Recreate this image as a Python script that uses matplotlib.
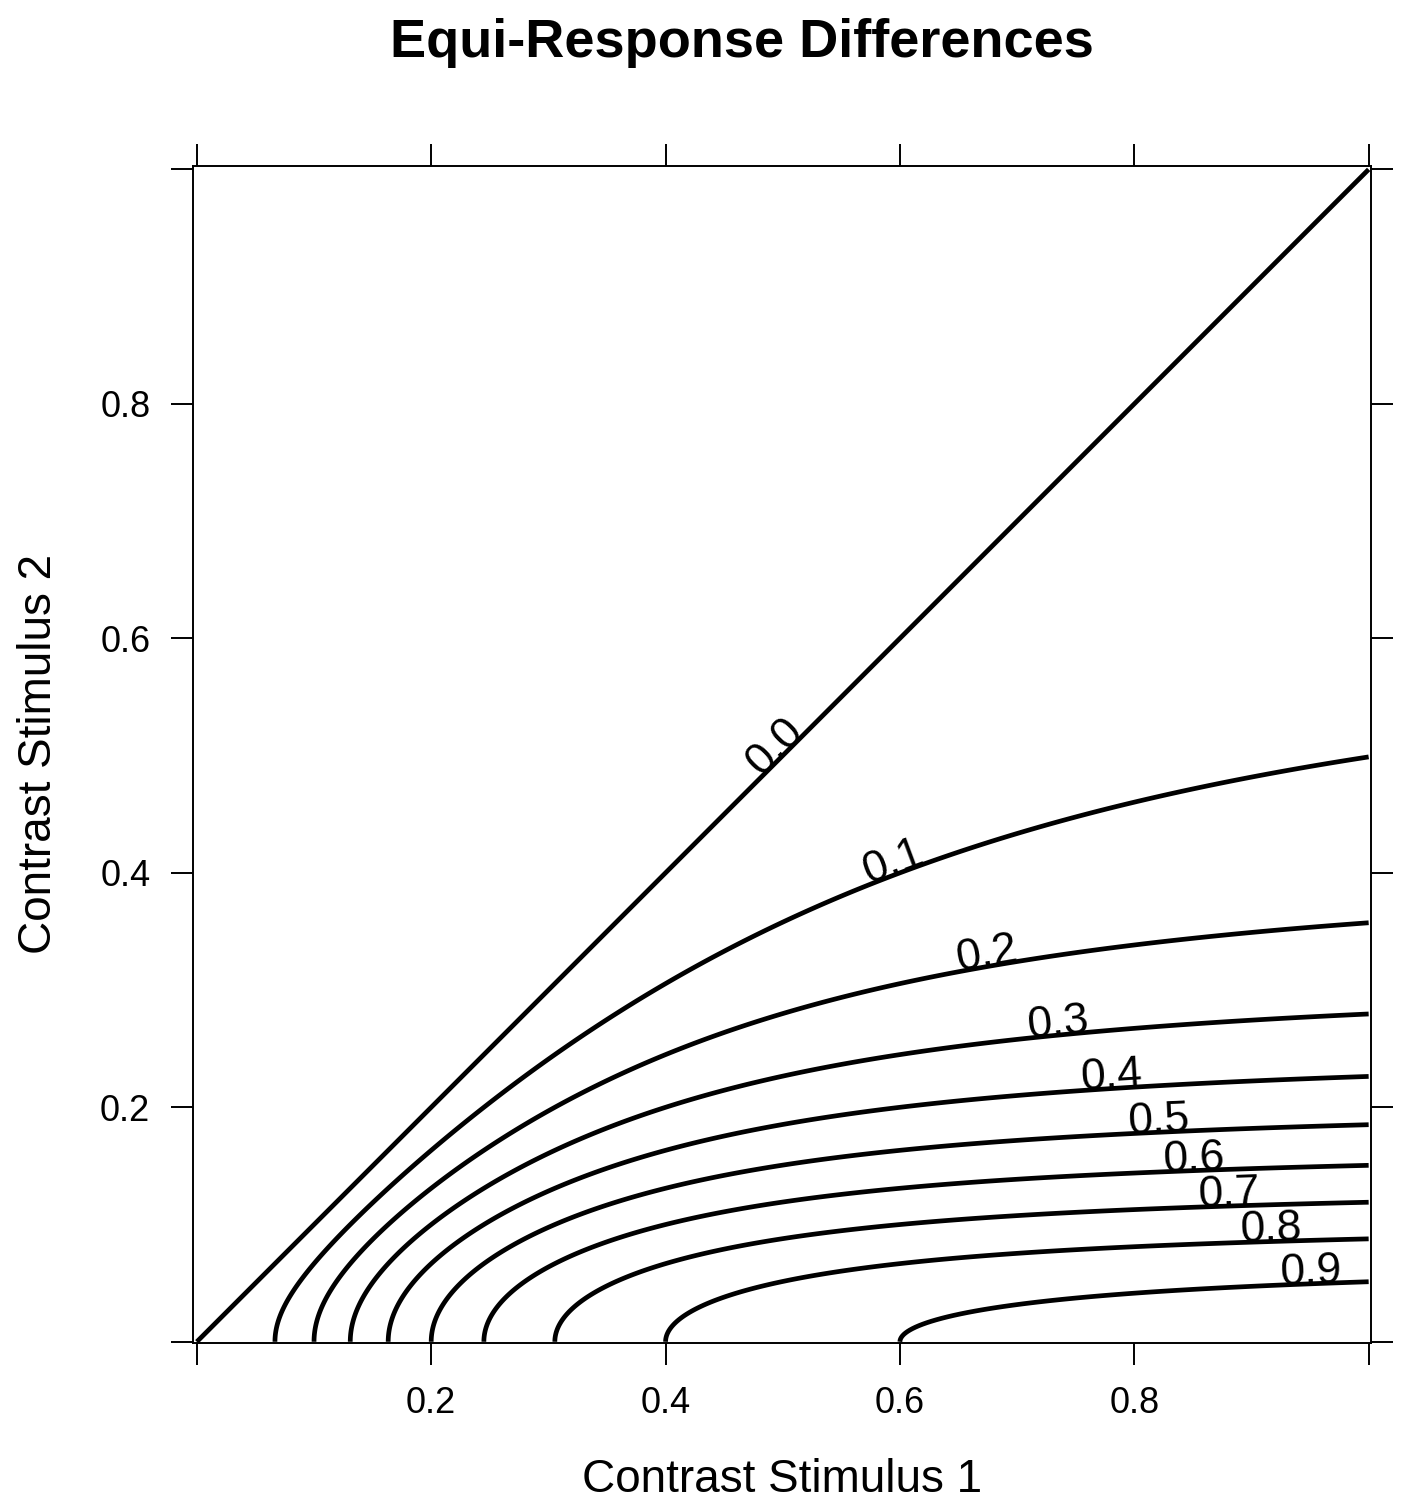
import numpy as np
import matplotlib
matplotlib.use("Agg")
import matplotlib.pyplot as plt

plt.rcParams['font.family'] = ['Liberation Sans', 'DejaVu Sans']

# response model: R(c) = c^n / (c^n + c50^n)
c50 = 0.2
n_exp = 2.0
levels = [0.0, 0.1, 0.2, 0.3, 0.4, 0.5, 0.6, 0.7, 0.8, 0.9]
level_labels = ['0.0', '0.1', '0.2', '0.3', '0.4', '0.5', '0.6', '0.7', '0.8', '0.9']
# x position (Contrast Stimulus 1) where each label sits on its line
label_x = [0.50, 0.598, 0.676, 0.736, 0.781, 0.821, 0.851, 0.881, 0.917, 0.951]
ticks = [0.0, 0.2, 0.4, 0.6, 0.8, 1.0]
tick_labels = ['', '0.2', '0.4', '0.6', '0.8', '']


def response(c):
    return c ** n_exp / (c ** n_exp + c50 ** n_exp)


c = np.linspace(0, 1, 801)
X, Y = np.meshgrid(c, c)
Z = response(X) - response(Y)

fig = plt.figure(figsize=(14.07, 15), dpi=100)
ax = fig.add_axes([0.1374, 0.1047, 0.8370, 0.7847])
cs = ax.contour(X, Y, Z, levels=levels, colors='black', linewidths=3.4)
ax.set_xlim(-0.003, 1.002)
ax.set_ylim(-0.001, 1.003)

fig.canvas.draw()
for i, lev in enumerate(levels):
    pts = np.vstack(cs.allsegs[i])
    pts = pts[np.argsort(pts[:, 0])]
    x0 = label_x[i]
    y0 = np.interp(x0, pts[:, 0], pts[:, 1])
    y1 = np.interp(x0 + 0.01, pts[:, 0], pts[:, 1])
    p0 = ax.transData.transform((x0, y0))
    p1 = ax.transData.transform((x0 + 0.01, y1))
    ang = np.degrees(np.arctan2(p1[1] - p0[1], p1[0] - p0[0]))
    ax.text(x0, y0, level_labels[i], rotation=ang, rotation_mode='anchor',
            ha='center', va='baseline', fontsize=32)

ax.set_xticks(ticks)
ax.set_xticklabels(tick_labels)
ax.set_yticks(ticks)
ax.set_yticklabels(tick_labels)
ax.tick_params(direction='out', length=16, width=1.4, labelsize=26, pad=15,
               top=True, right=True, labeltop=False, labelright=False)
for s in ax.spines.values():
    s.set_linewidth(1.4)

ax.set_xlabel('Contrast Stimulus 1', fontsize=33)
ax.set_ylabel('Contrast Stimulus 2', fontsize=33)
ax.xaxis.set_label_coords(0.5, -0.098)
ax.yaxis.set_label_coords(-0.112, 0.5)
fig.suptitle('Equi-Response Differences', fontsize=39, fontweight='bold',
             x=0.527, y=0.988)

fig.savefig('out.png', dpi=100)
